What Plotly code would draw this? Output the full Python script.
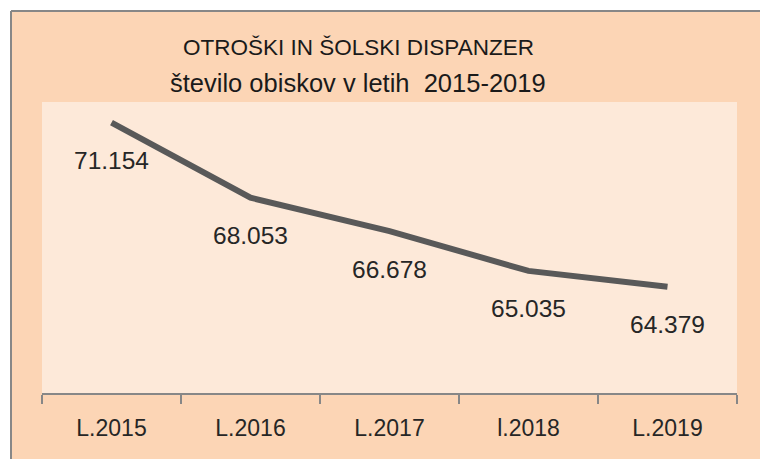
import plotly.graph_objects as go

categories = ["L.2015", "L.2016", "L.2017", "l.2018", "L.2019"]
visits = [71154, 68053, 66678, 65035, 64379]
value_labels = ["71.154", "68.053", "66.678", "65.035", "64.379"]
title_line1 = "OTROŠKI IN ŠOLSKI DISPANZER"
title_line2 = "število obiskov v letih\u00a0\u00a02015-2019"

W, H = 760, 459
plot_left, plot_right, plot_top, plot_bottom = 42, 737, 102, 393
ml = plot_left
mt = plot_top
mr = W - plot_right
mb = H - plot_bottom
pw = plot_right - plot_left
ph = plot_bottom - plot_top

def px_to_paper_x(px):
    return (px - plot_left) / pw

def px_to_paper_y(py):
    return (plot_bottom - py) / ph

font_family = "Liberation Sans, Arial, sans-serif"

fig = go.Figure()
fig.add_trace(go.Scatter(
    x=categories, y=visits, mode="lines",
    line=dict(color="#595959", width=6),
    hoverinfo="skip", showlegend=False,
))

annotations = []
for c, v, lab in zip(categories, visits, value_labels):
    annotations.append(dict(
        x=c, y=v, xref="x", yref="y", text=lab, showarrow=False,
        yshift=-38, font=dict(family=font_family, size=24.5, color="#262626"),
    ))
annotations.append(dict(
    x=px_to_paper_x(358), y=px_to_paper_y(47), xref="paper", yref="paper",
    text=title_line1, showarrow=False, xanchor="center", yanchor="middle",
    font=dict(family=font_family, size=22.5, color="#1a1a1a"),
))
annotations.append(dict(
    x=px_to_paper_x(358), y=px_to_paper_y(83), xref="paper", yref="paper",
    text=title_line2, showarrow=False, xanchor="center", yanchor="middle",
    font=dict(family=font_family, size=25.5, color="#1a1a1a"),
))

x_left = px_to_paper_x(11)
x_far = px_to_paper_x(800)
y_top = px_to_paper_y(11)
y_far = px_to_paper_y(500)
shapes = [
    dict(type="rect", xref="paper", yref="paper", layer="below",
         x0=x_left, x1=x_far, y0=y_far, y1=y_top,
         fillcolor="#FCD5B5", line=dict(width=0)),
    dict(type="line", xref="paper", yref="paper", layer="below",
         x0=x_left, x1=x_far, y0=y_top, y1=y_top,
         line=dict(color="#878787", width=2)),
    dict(type="line", xref="paper", yref="paper", layer="below",
         x0=x_left, x1=x_left, y0=y_far, y1=y_top,
         line=dict(color="#878787", width=2)),
    dict(type="rect", xref="paper", yref="paper", layer="below",
         x0=0, x1=1, y0=0, y1=1,
         fillcolor="#FDE9D9", line=dict(width=0)),
]

fig.update_layout(
    width=W, height=H,
    margin=dict(l=ml, r=mr, t=mt, b=mb, pad=0),
    paper_bgcolor="white",
    plot_bgcolor="rgba(0,0,0,0)",
    annotations=annotations,
    shapes=shapes,
    xaxis=dict(
        type="category", range=[-0.5, 4.5], tickson="boundaries",
        ticks="outside", ticklen=9, tickwidth=2, tickcolor="#878787",
        showline=True, linecolor="#878787", linewidth=2,
        showgrid=False, zeroline=False, fixedrange=True,
        ticklabelstandoff=13,
        tickfont=dict(family=font_family, size=23, color="#262626"),
    ),
    yaxis=dict(range=[60000, 72000], visible=False, showgrid=False, fixedrange=True),
)

fig.write_html(
    "out.html",
    config={"displayModeBar": False},
    post_script="document.body.style.margin='0';document.documentElement.style.overflow='hidden';document.body.style.overflow='hidden';",
)
